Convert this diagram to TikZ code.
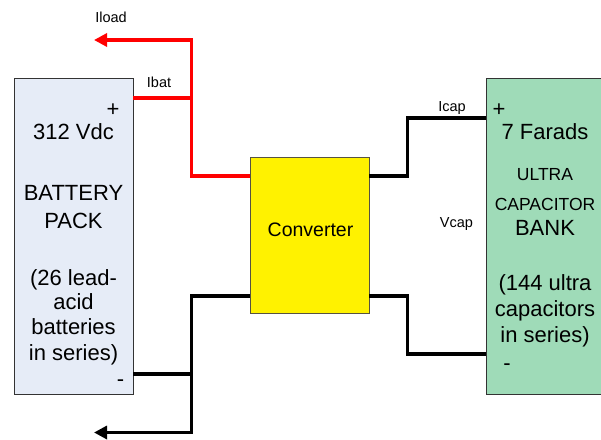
\documentclass[tikz,border=0pt]{standalone}
\usepackage{fontspec}
\setmainfont{Liberation Sans}
\usepackage{xcolor}
\usetikzlibrary{positioning,arrows.meta}

\definecolor{batfill}{HTML}{E6ECF7}
\definecolor{capfill}{HTML}{9FDBB8}
\definecolor{wirered}{HTML}{FF0000}

\begin{document}
\begin{tikzpicture}[
    x=1pt, y=-1pt,
    block/.style={
        rectangle,
        draw=black!80,
        line width=0.8pt,
        inner sep=0pt
    },
    bigtext/.style={
        anchor=base,
        inner sep=0pt,
        font=\fontsize{22}{26}\selectfont
    },
    midtext/.style={
        anchor=base,
        inner sep=0pt,
        font=\fontsize{17.5}{21}\selectfont
    },
    tag/.style={
        anchor=base,
        inner sep=0pt,
        font=\fontsize{14.5}{17}\selectfont
    },
    redwire/.style={
        line width=3.2pt,
        draw=wirered
    },
    blackwire/.style={
        line width=3.2pt,
        draw=black
    },
    tip/.style={
        -{Triangle[length=13pt,width=13pt]}
    }
]
\clip (0,0) rectangle (601,439);

% Blocks
\node[block, fill=batfill, minimum width=119pt, minimum height=316pt] (bat) at (73.5,236) {};
\node[block, fill=yellow, draw=black!60!yellow!60!black, minimum width=119pt, minimum height=156pt] (conv) at (309.5,235) {};
\node[block, fill=capfill, minimum width=119pt, minimum height=316pt] (cap) at (545.5,236) {};

% Battery text
\node[bigtext] (batplus) at (113,116) {+};
\node[bigtext] (batvolt) at (73.5,139.5) {312 Vdc};
\node[bigtext] (battitle) at (73.5,200) {BATTERY};
\node[bigtext] (batpack) at (73.5,228) {PACK};
\node[bigtext] (batnote1) at (73.5,285.5) {(26 lead-};
\node[bigtext] (batnote2) at (73.5,309) {acid};
\node[bigtext] (batnote3) at (73.5,334.5) {batteries};
\node[bigtext] (batnote4) at (73.5,360) {in series)};
\node[bigtext] (batminus) at (120.5,386) {-};

% Converter text
\node[bigtext, font=\fontsize{19.5}{23}\selectfont] (convtext) at (310.5,236) {Converter};

% Capacitor bank text
\node[bigtext] (capplus) at (499,116) {+};
\node[bigtext] (capfarad) at (545,139.5) {7 Farads};
\node[midtext] (capultra) at (545,180) {ULTRA};
\node[midtext] (capcap) at (545,210) {CAPACITOR};
\node[bigtext] (capbank) at (545,235.7) {BANK};
\node[bigtext] (capnote1) at (545,290.7) {(144 ultra};
\node[bigtext] (capnote2) at (545,316.7) {capacitors};
\node[bigtext] (capnote3) at (545,342.7) {in series)};
\node[bigtext] (capminus) at (507,370) {-};

% Terminals and junctions
\coordinate (batpos) at (bat.east |- 0,98);
\coordinate (batneg) at (bat.east |- 0,374);
\coordinate (convinpos) at (conv.west |- 0,176);
\coordinate (convinneg) at (conv.west |- 0,296);
\coordinate (convoutpos) at (conv.east |- 0,176);
\coordinate (convoutneg) at (conv.east |- 0,296);
\coordinate (cappos) at (cap.west |- 0,118);
\coordinate (capneg) at (cap.west |- 0,354);
\coordinate (jred) at (191.5,98);
\coordinate (jblack) at (191.5,374);
\coordinate (loadout) at (94,40);
\coordinate (groundout) at (94,432.5);

% Connections
\draw[redwire] (batpos) -- (jred);
\draw[redwire, tip] (jred) |- (loadout);
\draw[redwire] (jred) |- (convinpos);

\draw[blackwire] (batneg) -- (jblack);
\draw[blackwire] (convinneg) -| (jblack);
\draw[blackwire, tip] (jblack) |- (groundout);

\draw[blackwire] (convoutpos) -- ++(38,0) |- (cappos);
\draw[blackwire] (convoutneg) -- ++(38,0) |- (capneg);

% Labels
\node[tag] (iload) at (111,22) {Iload};
\node[tag] (ibat) at (159,87) {Ibat};
\node[tag] (icap) at (452,111) {Icap};
\node[tag] (vcap) at (456.5,227) {Vcap};

\end{tikzpicture}
\end{document}
